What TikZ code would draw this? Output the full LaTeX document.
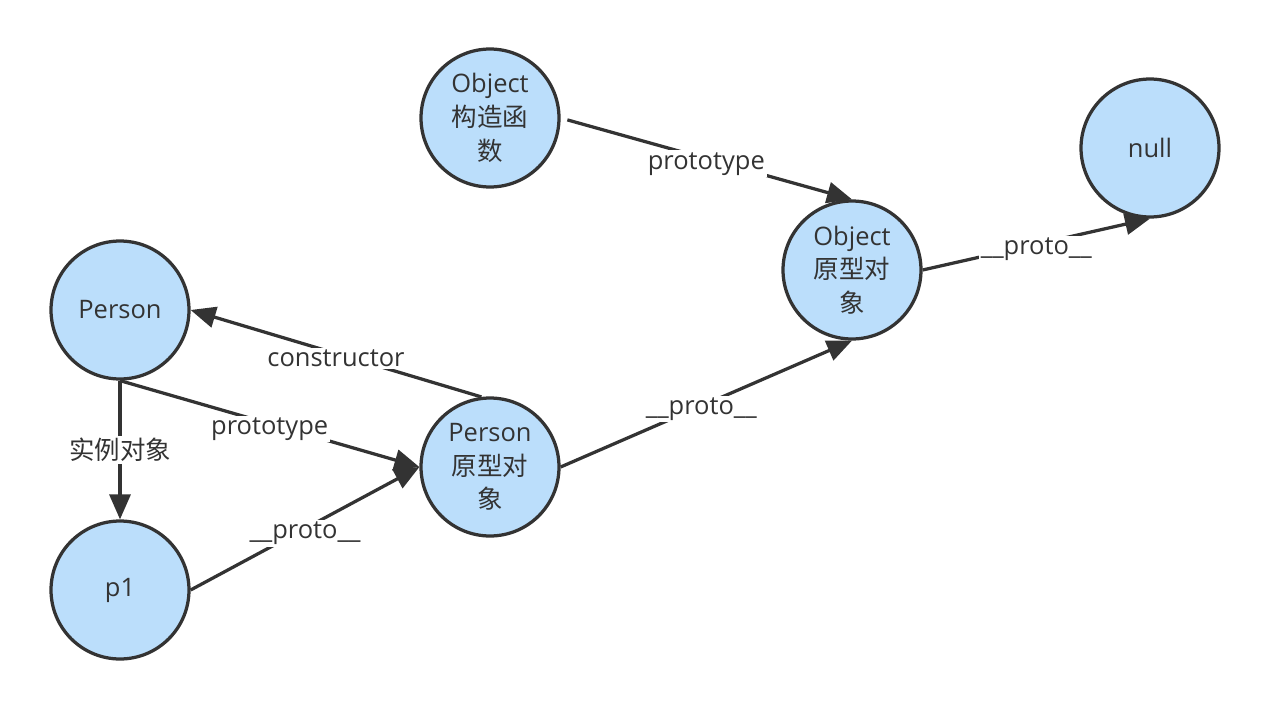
\documentclass[tikz,border=0pt]{standalone}
\usepackage{fontspec}
\setmainfont{Open Sans}
\newfontfamily\cjk{Noto Sans CJK SC}
\usetikzlibrary{arrows.meta}
\definecolor{nodeblue}{HTML}{BBDEFB}
\definecolor{inkgray}{HTML}{333333}

\begin{document}
\begin{tikzpicture}[x=0.02cm, y=-0.02cm, >={Triangle[length=0.5cm,width=0.42cm]},
  obj/.style={draw=inkgray, line width=0.065cm, fill=nodeblue, circle, minimum size=2.76cm, inner sep=0pt, align=center, text=inkgray, font=\fontsize{14.5}{19.2}\selectfont},
  link/.style={draw=inkgray, line width=0.065cm, ->},
  lbl/.style={fill=white, text=inkgray, inner sep=1pt, yshift=-0.1cm, font=\fontsize{14.5}{17}\selectfont}]
\useasboundingbox (0,0) rectangle (1270,710);
% objects
\node[obj] (objctor) at (490,118) {Object\\{\cjk 构造函}\\{\cjk 数}};
\node[obj] (null) at (1150,148) {null};
\node[obj] (objproto) at (852,270) {Object\\{\cjk 原型对}\\{\cjk 象}};
\node[obj] (person) at (120,310) {Person};
\node[obj] (pproto) at (490,467) {Person\\{\cjk 原型对}\\{\cjk 象}};
\node[obj] (p1) at (120,590) {p1};
% links
\draw[link, shorten <=0.14cm] (objctor.east) -- node[lbl] {prototype} (objproto.north);
\draw[link] (objproto.east) -- node[lbl] {\_\_proto\_\_} (null.south);
\draw[link] (pproto.east) -- node[lbl, xshift=-0.1cm] {\_\_proto\_\_} (objproto.south);
\draw[link] (pproto.97) -- node[lbl] {constructor} (person.east);
\draw[link] (person.south) -- node[lbl] {prototype} (pproto.west);
\draw[link] (person.south) -- node[lbl, yshift=0.1cm] {\cjk 实例对象} (p1.north);
\draw[link] (p1.east) -- node[lbl] {\_\_proto\_\_} (pproto.west);
\end{tikzpicture}
\end{document}
